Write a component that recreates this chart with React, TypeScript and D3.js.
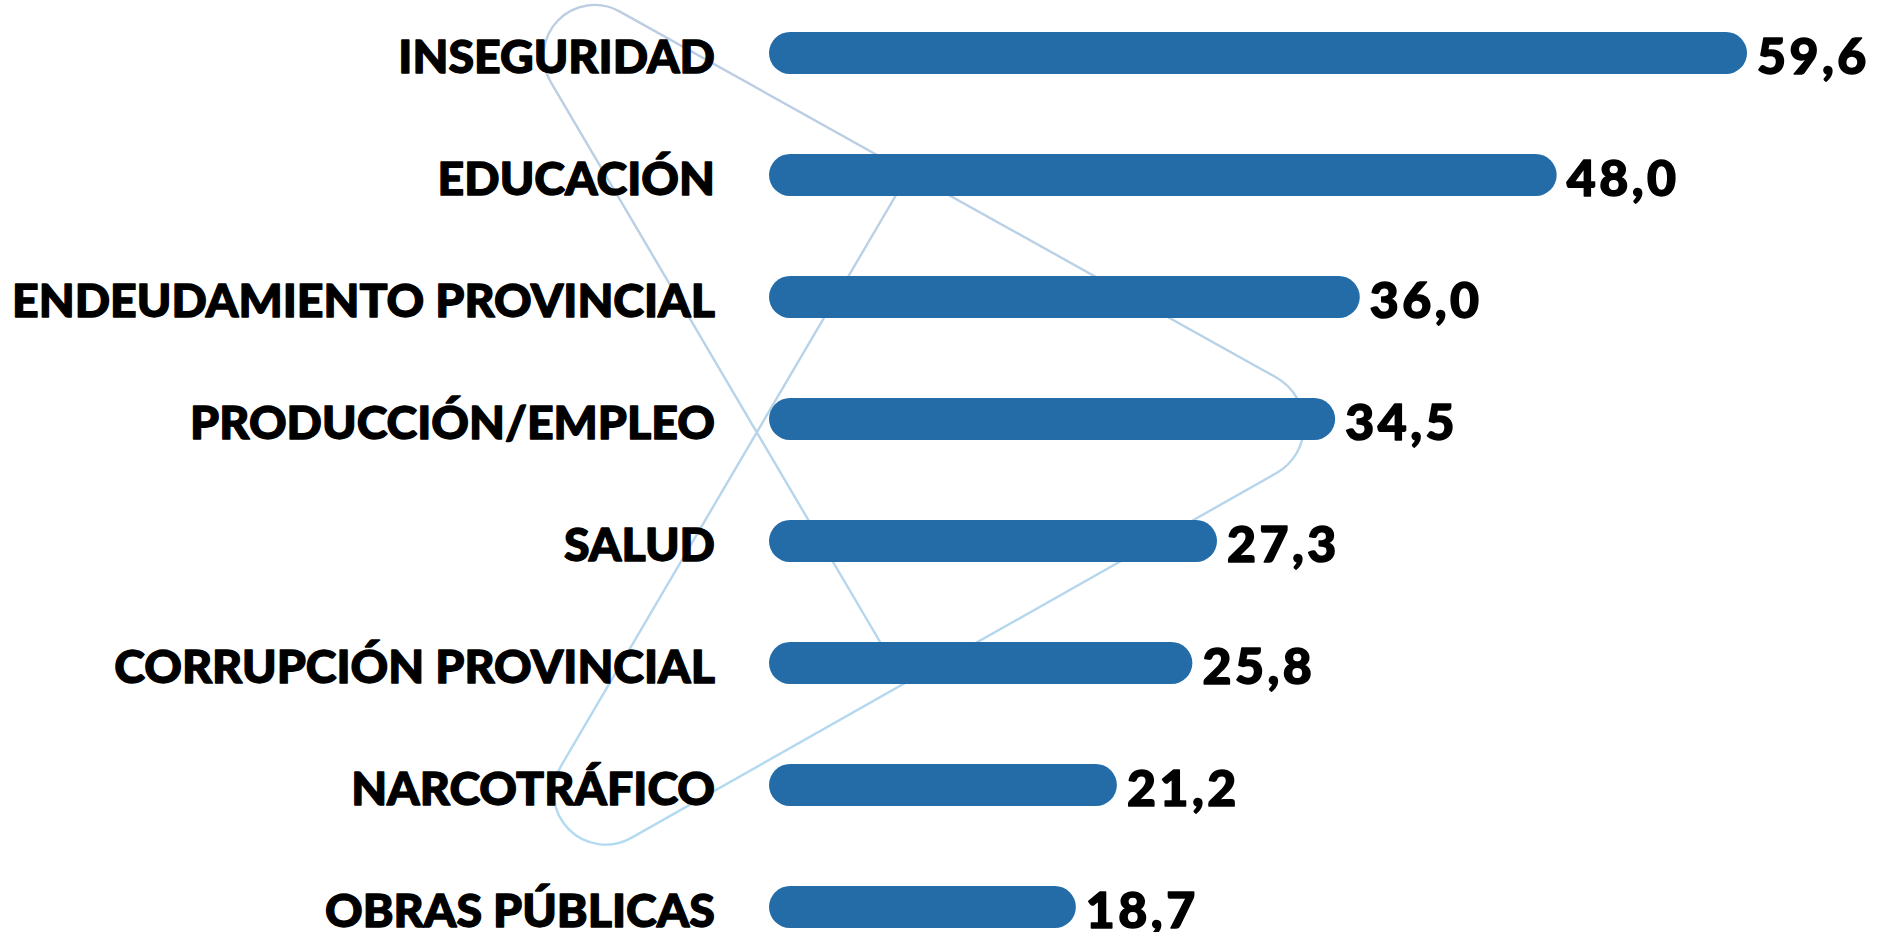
import React from "react";
import * as d3 from "d3";

const categories = [
  "INSEGURIDAD",
  "EDUCACIÓN",
  "ENDEUDAMIENTO PROVINCIAL",
  "PRODUCCIÓN/EMPLEO",
  "SALUD",
  "CORRUPCIÓN PROVINCIAL",
  "NARCOTRÁFICO",
  "OBRAS PÚBLICAS",
];
const values = [59.6, 48.0, 36.0, 34.5, 27.3, 25.8, 21.2, 18.7];

const W = 1879;
const H = 932;
const BAR_H = 42;
const FONT = "Lato, 'Open Sans', sans-serif";

export default function App() {
  const x = d3.scaleLinear().domain([0, 60]).range([769, 769 + 60 * 16.41]);
  const y = d3.scalePoint<string>().domain(categories).range([53, 907]);
  const fmt = (v: number) => d3.format(".1f")(v).replace(".", ",");

  // decorative rounded outline behind the bars
  const Pa = [909, 173];
  const B = [463, 933];
  const R = [1361.5, 425];
  const T = [455.5, -80];
  const Pb = [904.5, 683.5];
  const p = d3.path();
  p.moveTo(Pa[0], Pa[1]);
  p.arcTo(B[0], B[1], R[0], R[1], 52);
  p.arcTo(R[0], R[1], T[0], T[1], 55);
  p.arcTo(T[0], T[1], Pb[0], Pb[1], 51);
  p.lineTo(Pb[0], Pb[1]);

  return (
    <svg
      width={W}
      height={H}
      style={{ position: "absolute", left: 0, top: 0, background: "#fff" }}
    >
      <defs>
        <linearGradient id="deco" gradientUnits="userSpaceOnUse" x1={0} y1={0} x2={0} y2={H}>
          <stop offset="0%" stopColor="#bccde1" />
          <stop offset="100%" stopColor="#b2dcf3" />
        </linearGradient>
      </defs>
      <path d={p.toString()} fill="none" stroke="url(#deco)" strokeWidth={2.4} />
      <g
        fontFamily={FONT}
        fontWeight={900}
        fontSize={46.5}
        fill="#000"
        stroke="#000"
        strokeWidth={1.3}
        strokeLinejoin="round"
      >
        {categories.map((c) => (
          <text key={c} x={715} y={(y(c) as number) + 20} textAnchor="end">
            {c}
          </text>
        ))}
      </g>
      <g>
        {categories.map((c, i) => (
          <rect
            key={c}
            x={x(0)}
            y={(y(c) as number) - BAR_H / 2}
            width={x(values[i]) - x(0)}
            height={BAR_H}
            rx={BAR_H / 2}
            fill="#236ca8"
          />
        ))}
      </g>
      <g
        fontFamily={FONT}
        fontWeight={900}
        fontSize={50}
        letterSpacing={3.5}
        fill="#000"
        stroke="#000"
        strokeWidth={1.5}
        strokeLinejoin="round"
      >
        {categories.map((c, i) => (
          <text key={c} x={x(values[i]) + 10} y={(y(c) as number) + 21}>
            {fmt(values[i])}
          </text>
        ))}
      </g>
    </svg>
  );
}
